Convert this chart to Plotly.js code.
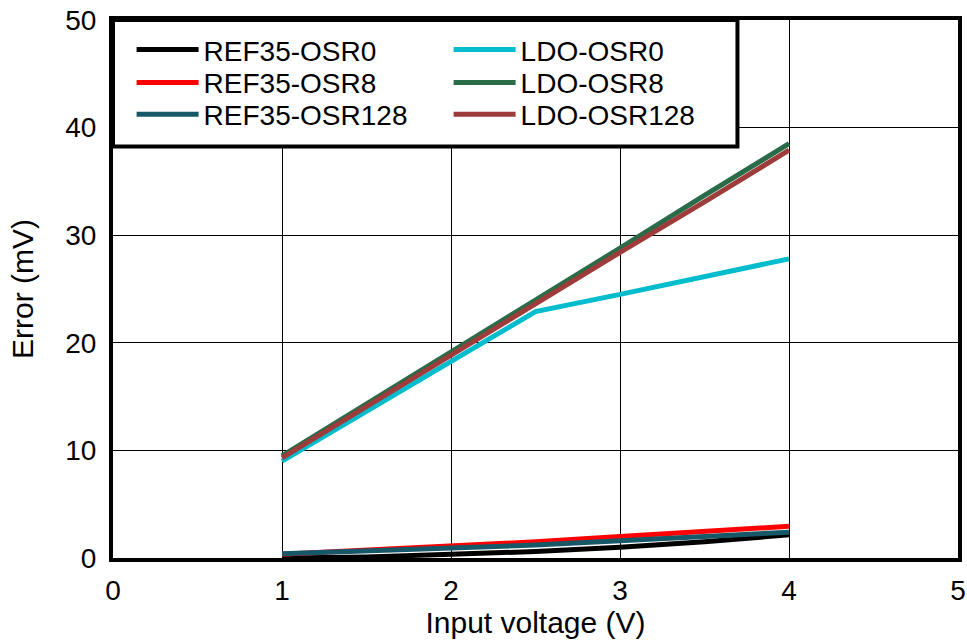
<!DOCTYPE html>
<html>
<head>
<meta charset="utf-8">
<script src="https://cdn.plot.ly/plotly-3.0.1.min.js"></script>
<style>html,body{margin:0;padding:0;background:#fff;}#chart{width:967px;height:641px;}</style>
</head>
<body>
<div id="chart"></div>
<script>
// Input voltage (V)
const inputVoltage = [1, 1.5, 2, 2.5, 3, 3.5, 4];
// Error (mV)
const ref35Osr0   = [0.0, 0.1, 0.35, 0.6, 1.0, 1.5, 2.15];
const ref35Osr8   = [0.35, 0.7, 1.1, 1.5, 2.0, 2.45, 2.95];
const ref35Osr128 = [0.4, 0.65, 0.9, 1.2, 1.6, 2.0, 2.4];
const ldoOsr0     = [9.0, 13.6, 18.2, 22.9, 24.5, 26.2, 27.8];
const ldoOsr8     = [9.5, 14.3, 19.2, 24.0, 28.8, 33.7, 38.5];
const ldoOsr128   = [9.3, 14.1, 18.8, 23.6, 28.4, 33.1, 37.9];

const seriesNames = ['REF35-OSR0', 'REF35-OSR8', 'REF35-OSR128', 'LDO-OSR0', 'LDO-OSR8', 'LDO-OSR128'];
const seriesValues = [ref35Osr0, ref35Osr8, ref35Osr128, ldoOsr0, ldoOsr8, ldoOsr128];
const seriesColors = ['#000000', '#ff0000', '#165868', '#00bccd', '#2a6b48', '#9e3b3b'];
// legend row of each series (one legend per row, two columns)
const seriesLegend = ['legend', 'legend2', 'legend3', 'legend', 'legend2', 'legend3'];
const seriesRank = [1, 1, 1, 2, 2, 2];

const FONT = 'Liberation Sans, Arial, sans-serif';

const traces = seriesNames.map((name, i) => ({
  type: 'scatter',
  mode: 'lines',
  name: name,
  x: inputVoltage,
  y: seriesValues[i],
  line: {color: seriesColors[i], width: 5},
  legend: seriesLegend[i],
  legendrank: seriesRank[i]
}));

const legendRow = (yPos) => ({
  orientation: 'h',
  x: 0.022, y: yPos, xanchor: 'left', yanchor: 'middle',
  bgcolor: 'rgba(0,0,0,0)',
  borderwidth: 0,
  itemwidth: 62,
  entrywidth: 240,
  font: {family: FONT, size: 28, color: '#000'},
  traceorder: 'normal'
});

const layout = {
  width: 967,
  height: 641,
  margin: {l: 113, r: 9, t: 20, b: 83},
  paper_bgcolor: '#ffffff',
  plot_bgcolor: '#ffffff',
  font: {family: FONT, size: 28, color: '#000'},
  showlegend: true,
  legend: legendRow(0.9444),
  legend2: legendRow(0.8833),
  legend3: legendRow(0.8241),
  shapes: [{
    type: 'rect', xref: 'paper', yref: 'paper',
    x0: 0, x1: 0.739, y0: 0.765, y1: 1,
    line: {color: '#000000', width: 4},
    fillcolor: '#ffffff',
    layer: 'above'
  }],
  xaxis: {
    range: [0, 5],
    dtick: 1,
    tick0: 0,
    showgrid: true,
    gridcolor: '#000000',
    gridwidth: 1,
    zeroline: false,
    showline: true,
    mirror: true,
    linecolor: '#000000',
    linewidth: 4,
    ticks: '',
    ticklabelstandoff: 4,
    tickfont: {family: FONT, size: 28, color: '#000'},
    title: {text: 'Input voltage (V)', font: {family: FONT, size: 30, color: '#000'}, standoff: 0}
  },
  yaxis: {
    range: [0, 50],
    dtick: 10,
    tick0: 0,
    showgrid: true,
    gridcolor: '#000000',
    gridwidth: 1,
    zeroline: false,
    showline: true,
    mirror: true,
    linecolor: '#000000',
    linewidth: 4,
    ticks: '',
    ticklabelstandoff: 7,
    tickfont: {family: FONT, size: 28, color: '#000'},
    title: {text: 'Error (mV)', font: {family: FONT, size: 30, color: '#000'}, standoff: 24}
  }
};

Plotly.newPlot('chart', traces, layout, {displayModeBar: false, staticPlot: true});
</script>
</body>
</html>
